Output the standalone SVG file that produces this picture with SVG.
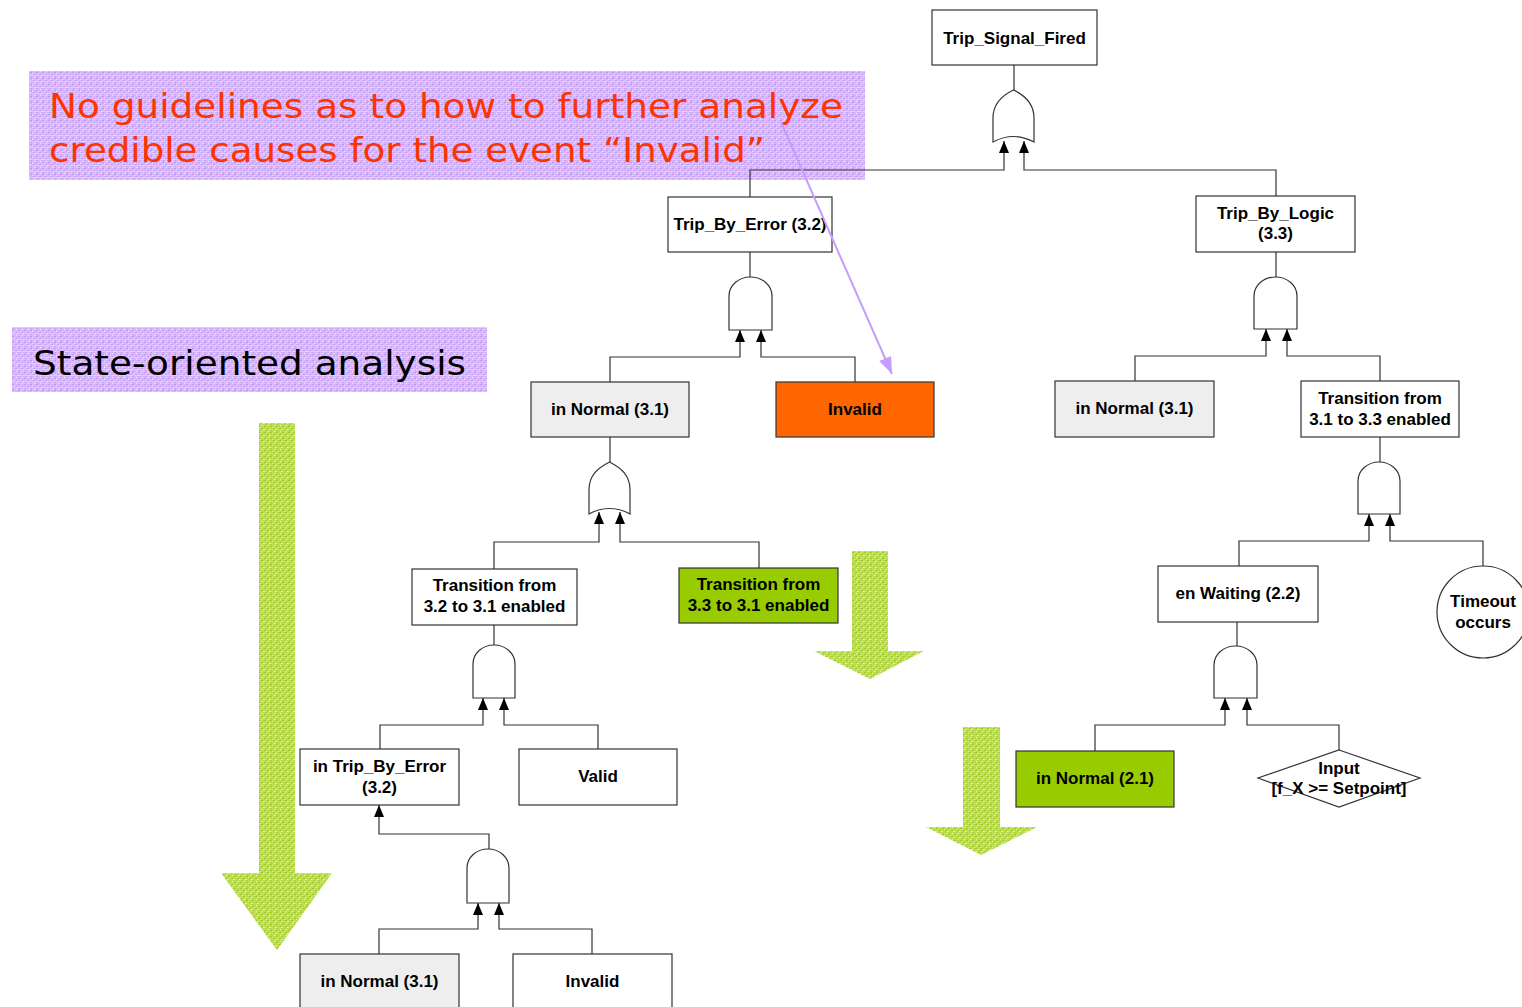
<svg xmlns="http://www.w3.org/2000/svg" width="1522" height="1007" viewBox="0 0 1522 1007">
  <defs>
    <style>
      .box { stroke: #333; stroke-width: 1.2; fill: #ffffff; }
      .grey { fill: #eeeeee; }
      .orange { fill: #ff6600; }
      .lime { fill: #99cc00; }
      .gate { fill: #ffffff; stroke: #333; stroke-width: 1.2; }
      .wire { fill: none; stroke: #333; stroke-width: 1.2; }
      .lbl { font-family: "Liberation Sans", Arial, sans-serif; font-weight: bold; font-size: 17px; fill: #000; text-anchor: middle; }
      .note { font-family: "DejaVu Sans", Verdana, sans-serif; font-size: 34px; }
    </style>
    <pattern id="lavender" width="6" height="6" patternUnits="userSpaceOnUse">
      <rect width="6" height="6" fill="#d6b8fa"/>
      <rect x="0" y="0" width="2" height="1" fill="#c196f4"/>
      <rect x="3" y="2" width="2" height="1" fill="#c59cf5"/>
      <rect x="1" y="4" width="1" height="1" fill="#bf93f3"/>
      <rect x="4" y="5" width="1" height="1" fill="#f1e7fd"/>
      <rect x="2" y="1" width="1" height="1" fill="#eee2fd"/>
      <rect x="5" y="3" width="1" height="1" fill="#ebdcfc"/>
      <rect x="0" y="3" width="6" height="0.6" fill="#e6d6fb"/>
    </pattern>
    <pattern id="leaf" width="6" height="6" patternUnits="userSpaceOnUse">
      <rect width="6" height="6" fill="#bcdc58"/>
      <rect x="0" y="0" width="2" height="1" fill="#a2cf1e"/>
      <rect x="3" y="2" width="2" height="1" fill="#9fcc16"/>
      <rect x="1" y="4" width="1" height="1" fill="#a6d226"/>
      <rect x="4" y="5" width="1" height="1" fill="#eaf5c6"/>
      <rect x="2" y="1" width="1" height="1" fill="#e4f2b6"/>
      <rect x="5" y="3" width="1" height="1" fill="#e8f4c0"/>
      <rect x="0" y="3" width="1" height="1" fill="#dcee9e"/>
    </pattern>
    <marker id="tri" viewBox="0 0 12 10" refX="12" refY="5" markerWidth="12" markerHeight="10" markerUnits="userSpaceOnUse" orient="auto">
      <path d="M0,0 L12,5 L0,10 Z" fill="#000"/>
    </marker>
    <marker id="violetHead" viewBox="0 0 17 13" refX="17" refY="6.5" markerWidth="17" markerHeight="13" markerUnits="userSpaceOnUse" orient="auto">
      <path d="M0,0 L17,6.5 L0,13 Z" fill="#c69cff"/>
    </marker>
  </defs>

  <!-- annotation banners -->
  <g id="note-guidelines">
    <rect x="29" y="71" width="836" height="109" fill="url(#lavender)"/>
    <text class="note" x="49" y="118" fill="#ff3300" textLength="794" lengthAdjust="spacingAndGlyphs">No guidelines as to how to further analyze</text>
    <text class="note" x="49" y="162" fill="#ff3300" textLength="716" lengthAdjust="spacingAndGlyphs">credible causes for the event “Invalid”</text>
  </g>
  <g id="note-state">
    <rect x="12" y="327" width="475" height="65" fill="url(#lavender)"/>
    <text class="note" x="33" y="375" fill="#000" font-size="33" textLength="433" lengthAdjust="spacingAndGlyphs">State-oriented analysis</text>
  </g>

  <!-- downward progress arrows -->
  <g id="flow-arrows">
    <path d="M259,423 L295,423 L295,873 L332,873 L277,950 L221,873 L259,873 Z" fill="url(#leaf)"/>
    <path d="M852,551 L888,551 L888,651 L924,651 L870,679 L814,651 L852,651 Z" fill="url(#leaf)"/>
    <path d="M963,727 L1000,727 L1000,827 L1037,827 L981,855 L926,827 L963,827 Z" fill="url(#leaf)"/>
  </g>

  <!-- connectors -->
  <g id="connectors">
    <path class="wire" d="M1014,65 L1014,90"/>
    <path class="wire" d="M750,252 L750,277"/>
    <path class="wire" d="M1276,252 L1276,277"/>
    <path class="wire" d="M610,437 L610,462"/>
    <path class="wire" d="M1380,437 L1380,462"/>
    <path class="wire" d="M494,625 L494,645"/>
    <path class="wire" d="M1237,622 L1237,646"/>

    <path class="wire" d="M750,197 L750,170 L1004,170 L1004,141" marker-end="url(#tri)"/>
    <path class="wire" d="M1276,196 L1276,170 L1024,170 L1024,141" marker-end="url(#tri)"/>
    <path class="wire" d="M610,382 L610,357 L740,357 L740,330" marker-end="url(#tri)"/>
    <path class="wire" d="M855,382 L855,357 L761,357 L761,330" marker-end="url(#tri)"/>
    <path class="wire" d="M1135,381 L1135,356 L1266,356 L1266,329" marker-end="url(#tri)"/>
    <path class="wire" d="M1380,381 L1380,356 L1287,356 L1287,329" marker-end="url(#tri)"/>
    <path class="wire" d="M494,569 L494,542 L599,542 L599,512" marker-end="url(#tri)"/>
    <path class="wire" d="M759,568 L759,542 L620,542 L620,512" marker-end="url(#tri)"/>
    <path class="wire" d="M1239,566 L1239,541 L1369,541 L1369,514" marker-end="url(#tri)"/>
    <path class="wire" d="M1483,566 L1483,541 L1390,541 L1390,514" marker-end="url(#tri)"/>
    <path class="wire" d="M380,749 L380,725 L483,725 L483,698" marker-end="url(#tri)"/>
    <path class="wire" d="M598,749 L598,725 L504,725 L504,698" marker-end="url(#tri)"/>
    <path class="wire" d="M1095,751 L1095,725 L1225,725 L1225,698" marker-end="url(#tri)"/>
    <path class="wire" d="M1339,750 L1339,725 L1247,725 L1247,698" marker-end="url(#tri)"/>
    <path class="wire" d="M489,849 L489,834 L379,834 L379,805" marker-end="url(#tri)"/>
    <path class="wire" d="M379,954 L379,929 L478,929 L478,903" marker-end="url(#tri)"/>
    <path class="wire" d="M592,954 L592,929 L499,929 L499,903" marker-end="url(#tri)"/>
  </g>

  <!-- gates -->
  <g id="gate-or-top"><path class="gate" d="M993,142 L993,118 C993,103 1003,95 1013.5,90 C1024,95 1034,103 1034,118 L1034,142 Q1013.5,131 993,142 Z"/></g>
  <g id="gate-and-error"><path class="gate" d="M729,330 L729,296 A21.5,19 0 0 1 772,296 L772,330 Z"/></g>
  <g id="gate-and-logic"><path class="gate" d="M1254,329 L1254,296 A21.5,19 0 0 1 1297,296 L1297,329 Z"/></g>
  <g id="gate-or-normal"><path class="gate" d="M589,514 L589,490 C589,475 598,468 609.5,462 C621,468 630,475 630,490 L630,514 Q609.5,503 589,514 Z"/></g>
  <g id="gate-and-t13"><path class="gate" d="M1358,514 L1358,481 A21,19 0 0 1 1400,481 L1400,514 Z"/></g>
  <g id="gate-and-t21"><path class="gate" d="M473,698 L473,664 A21,19 0 0 1 515,664 L515,698 Z"/></g>
  <g id="gate-and-wait"><path class="gate" d="M1214,698 L1214,665 A21.5,19 0 0 1 1257,665 L1257,698 Z"/></g>
  <g id="gate-and-bottom"><path class="gate" d="M467,903 L467,868 A21,19 0 0 1 509,868 L509,903 Z"/></g>

  <!-- events -->
  <g id="trip-signal-fired">
    <rect class="box" x="932" y="10" width="165" height="55"/>
    <text class="lbl" x="1014.5" y="43.5">Trip_Signal_Fired</text>
  </g>
  <g id="trip-by-error">
    <rect class="box" x="668" y="197" width="164" height="55"/>
    <text class="lbl" x="750" y="230">Trip_By_Error (3.2)</text>
  </g>
  <g id="trip-by-logic">
    <rect class="box" x="1196" y="196" width="159" height="56"/>
    <text class="lbl" x="1275.5" y="218.5">Trip_By_Logic</text>
    <text class="lbl" x="1275.5" y="239">(3.3)</text>
  </g>
  <g id="in-normal-31-a">
    <rect class="box grey" x="531" y="382" width="158" height="55"/>
    <text class="lbl" x="610" y="415">in Normal (3.1)</text>
  </g>
  <g id="invalid-a">
    <rect class="box orange" x="776" y="382" width="158" height="55"/>
    <text class="lbl" x="855" y="415">Invalid</text>
  </g>
  <g id="in-normal-31-b">
    <rect class="box grey" x="1055" y="381" width="159" height="56"/>
    <text class="lbl" x="1134.5" y="414">in Normal (3.1)</text>
  </g>
  <g id="transition-31-33">
    <rect class="box" x="1301" y="381" width="158" height="56"/>
    <text class="lbl" x="1380" y="403.5">Transition from</text>
    <text class="lbl" x="1380" y="424.5">3.1 to 3.3 enabled</text>
  </g>
  <g id="transition-32-31">
    <rect class="box" x="412" y="569" width="165" height="56"/>
    <text class="lbl" x="494.5" y="591">Transition from</text>
    <text class="lbl" x="494.5" y="612">3.2 to 3.1 enabled</text>
  </g>
  <g id="transition-33-31">
    <rect class="box lime" x="679" y="568" width="159" height="55"/>
    <text class="lbl" x="758.5" y="590">Transition from</text>
    <text class="lbl" x="758.5" y="611">3.3 to 3.1 enabled</text>
  </g>
  <g id="en-waiting">
    <rect class="box" x="1158" y="566" width="160" height="56"/>
    <text class="lbl" x="1238" y="599">en Waiting (2.2)</text>
  </g>
  <g id="timeout-occurs">
    <circle class="box" cx="1483" cy="612" r="46"/>
    <text class="lbl" x="1483" y="607">Timeout</text>
    <text class="lbl" x="1483" y="628">occurs</text>
  </g>
  <g id="in-trip-by-error">
    <rect class="box" x="300" y="749" width="159" height="56"/>
    <text class="lbl" x="379.5" y="772">in Trip_By_Error</text>
    <text class="lbl" x="379.5" y="793">(3.2)</text>
  </g>
  <g id="valid">
    <rect class="box" x="519" y="749" width="158" height="56"/>
    <text class="lbl" x="598" y="782">Valid</text>
  </g>
  <g id="in-normal-21">
    <rect class="box lime" x="1016" y="751" width="158" height="56"/>
    <text class="lbl" x="1095" y="784">in Normal (2.1)</text>
  </g>
  <g id="input-setpoint">
    <path class="box" d="M1339,750 L1420,778 L1339,807 L1258,778 Z"/>
    <text class="lbl" x="1339" y="774" font-size="16">Input</text>
    <text class="lbl" x="1339" y="794" font-size="16">[f_X &gt;= Setpoint]</text>
  </g>
  <g id="in-normal-31-c">
    <rect class="box grey" x="300" y="954" width="159" height="60"/>
    <text class="lbl" x="379.5" y="987">in Normal (3.1)</text>
  </g>
  <g id="invalid-b">
    <rect class="box" x="513" y="954" width="159" height="60"/>
    <text class="lbl" x="592.5" y="987">Invalid</text>
  </g>

  <!-- pointer from the banner to the event it refers to -->
  <g id="note-pointer">
    <path d="M781,122 L892,374" fill="none" stroke="#c69cff" stroke-width="2" marker-end="url(#violetHead)"/>
  </g>
</svg>
